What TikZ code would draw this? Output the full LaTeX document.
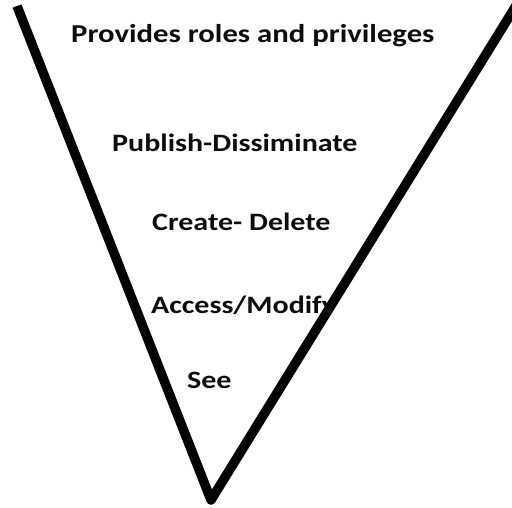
\documentclass[tikz,border=0pt]{standalone}
\usepackage{fontspec}
\usepackage{graphicx}
\setmainfont{Carlito}
\begin{document}
\begin{tikzpicture}[x=1pt,y=-1pt,
  vline/.style={line width=9.5pt, line join=round, draw=black},
  level/.style={anchor=base west, inner sep=0pt, text=black!95,
    font=\fontsize{25}{30}\selectfont\bfseries}]
\useasboundingbox (0,0) rectangle (512,508);
\clip (0,0) rectangle (512,508);
% the funnel
\coordinate (topL) at (17,6);
\coordinate (tip) at (211,500);
\coordinate (topR) at (517,4);
\draw[vline] (topL) -- (tip) -- (topR);
% levels
\node[level] (l0) at (71,43) {\scalebox{1.23}[1.03]{Provides roles and privileges}};
\node[level] (l1) at (112,152) {\scalebox{1.2}[1]{Publish-Dissiminate}};
\node[level] (l2) at (152,230) {\scalebox{1.2}[1]{Create- Delete}};
\node[level] (l3) at (151,313) {\scalebox{1.2}[1]{Access/Modify}};
\node[level] (l4) at (187,388) {\scalebox{1.2}[1]{See}};
\end{tikzpicture}
\end{document}
